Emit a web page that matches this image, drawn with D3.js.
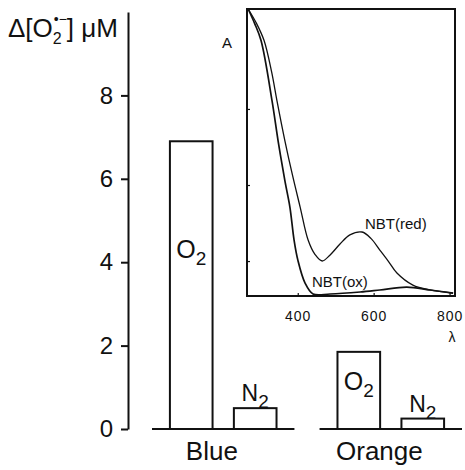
<!DOCTYPE html>
<html>
<head>
<meta charset="utf-8">
<script src="https://cdn.jsdelivr.net/npm/d3@7"></script>
<style>
  body { margin: 0; background: #fff; }
  text { font-family: "Liberation Sans", Arial, sans-serif; fill: #111; }
</style>
</head>
<body>
<div id="main"></div>
<script>
// bar chart data (delta superoxide, uM)
var categories = ["Blue", "Orange"];
var gases = ["O2", "N2"];
var blueValues = [6.9, 0.5];
var orangeValues = [1.85, 0.25];
var yTicks = [0, 2, 4, 6, 8];

// inset spectra (wavelength nm, absorbance in arbitrary units)
var redWave = [268, 290, 310, 330, 344, 365, 385, 405, 426, 444, 463, 484, 510, 536, 568, 592, 615, 638, 660, 702, 747, 808];
var redAbs  = [1.0, 0.95, 0.89, 0.78, 0.68, 0.54, 0.42, 0.31, 0.195, 0.145, 0.122, 0.143, 0.181, 0.213, 0.223, 0.2, 0.16, 0.12, 0.08, 0.038, 0.021, 0.01];
var oxWave = [268, 285, 302, 331, 347, 365, 378, 389, 399, 418, 439, 484, 563, 615, 686, 747, 808];
var oxAbs  = [1.0, 0.95, 0.89, 0.68, 0.54, 0.4, 0.31, 0.195, 0.125, 0.045, 0.007, 0.007, 0.014, 0.021, 0.031, 0.021, 0.01];
var insetXTicks = [400, 600, 800];
var insetYTicks = [0.12, 0.385, 0.65];

var W = 465, H = 470;

var svg = d3.select("#main")
  .append("svg")
    .attr("width", W)
    .attr("height", H);

var values = { "Blue": blueValues, "Orange": orangeValues };

// scales for the main chart
var y = d3.scaleLinear()
  .domain([0, 10])
  .range([429, 12]);

var x0 = d3.scaleBand()
  .domain(categories)
  .range([152, 462])
  .paddingInner(0.15)
  .paddingOuter(0);

var x1 = d3.scaleBand()
  .domain(gases)
  .range([0, x0.bandwidth()])
  .paddingInner(1 / 3)
  .paddingOuter(0.28);

// y axis
var yAxis = svg.append("g")
  .attr("transform", "translate(128,0)")
  .call(d3.axisLeft(y).tickValues(yTicks).tickSize(7).tickSizeOuter(0).tickPadding(8));

yAxis.select(".domain").attr("stroke-width", 2).attr("stroke", "#111");
yAxis.selectAll(".tick line").attr("stroke-width", 2).attr("stroke", "#111");
yAxis.selectAll(".tick text")
  .attr("font-size", 24)
  .attr("font-family", "Liberation Sans, Arial, sans-serif")
  .attr("fill", "#111");

// y axis title: delta [O2 superoxide] uM
var ylab = svg.append("text")
  .attr("x", 8)
  .attr("y", 37)
  .attr("font-size", 26);
ylab.append("tspan").text("Δ[O");
ylab.append("tspan").attr("font-size", 16).attr("dy", 7).text("2");
ylab.append("tspan").attr("font-size", 14).attr("dx", -8).attr("dy", -20).text("•−");
ylab.append("tspan").attr("dy", 13).text("] μM");

// groups
var groups = svg.selectAll(".grp")
  .data(categories)
  .enter().append("g")
    .attr("class", "grp")
    .attr("transform", function(d) { return "translate(" + x0(d) + ",0)"; });

// baseline under each group
groups.append("line")
  .attr("x1", 0)
  .attr("x2", x0.bandwidth())
  .attr("y1", y(0))
  .attr("y2", y(0))
  .attr("stroke", "#111")
  .attr("stroke-width", 2);

var bars = groups.selectAll(".bar")
  .data(function(c) { return gases.map(function(g, i) { return {gas: g, value: values[c][i]}; }); })
  .enter().append("g")
    .attr("class", "bar");

bars.append("rect")
  .attr("x", function(d) { return x1(d.gas); })
  .attr("y", function(d) { return y(d.value); })
  .attr("width", x1.bandwidth())
  .attr("height", function(d) { return y(0) - y(d.value); })
  .attr("fill", "#fff")
  .attr("stroke", "#111")
  .attr("stroke-width", 2);

// gas labels: O2 inside the bar, N2 above it
var lab = bars.append("text")
  .attr("text-anchor", "middle")
  .attr("x", function(d) { return x1(d.gas) + x1.bandwidth() / 2; })
  .attr("y", function(d) {
    if (d.gas == "O2") return Math.max(y(d.value) + 38, y(4.1));
    return y(d.value) - 7;
  })
  .attr("font-size", function(d) { return d.gas == "O2" ? 25 : 23; });
lab.append("tspan").text(function(d) { return d.gas.charAt(0); });
lab.append("tspan").attr("font-size", 19).attr("dy", 7).text("2");

// category labels
groups.append("text")
  .attr("x", x0.bandwidth() * 0.42)
  .attr("y", 460)
  .attr("text-anchor", "middle")
  .attr("font-size", 26)
  .text(function(d) { return d; });

// ---- inset spectrum ----
var ix = d3.scaleLinear().domain([265, 813]).range([247, 455]);
var iy = d3.scaleLinear().domain([0, 1]).range([296, 9]);

var inset = svg.append("g");

inset.append("rect")
  .attr("x", ix.range()[0])
  .attr("y", iy.range()[1])
  .attr("width", ix.range()[1] - ix.range()[0])
  .attr("height", iy.range()[0] - iy.range()[1])
  .attr("fill", "#fff")
  .attr("stroke", "#111")
  .attr("stroke-width", 2);

// small inward ticks
inset.selectAll(".yt")
  .data(insetYTicks)
  .enter().append("line")
    .attr("x1", ix.range()[0])
    .attr("x2", ix.range()[0] + 3)
    .attr("y1", function(d) { return iy(d); })
    .attr("y2", function(d) { return iy(d); })
    .attr("stroke", "#111")
    .attr("stroke-width", 1.2);

inset.selectAll(".xt")
  .data(insetXTicks)
  .enter().append("line")
    .attr("x1", function(d) { return ix(d); })
    .attr("x2", function(d) { return ix(d); })
    .attr("y1", iy(0))
    .attr("y2", iy(0) - 3)
    .attr("stroke", "#111")
    .attr("stroke-width", 1.2);

inset.selectAll(".xl")
  .data(insetXTicks)
  .enter().append("text")
    .attr("x", function(d) { return ix(d); })
    .attr("y", 321)
    .attr("text-anchor", "middle")
    .attr("font-size", 14)
    .attr("letter-spacing", 1)
    .text(function(d) { return d; });

inset.append("text").attr("x", 452).attr("y", 342).attr("text-anchor", "middle").attr("font-size", 14).text("λ");
inset.append("text").attr("x", 227).attr("y", 48).attr("text-anchor", "middle").attr("font-size", 15).text("A");

var line = d3.line()
  .x(function(d) { return ix(d[0]); })
  .y(function(d) { return iy(d[1]); })
  .curve(d3.curveCatmullRom.alpha(0.5));

inset.append("path")
  .attr("d", line(d3.zip(redWave, redAbs)))
  .attr("fill", "none")
  .attr("stroke", "#111")
  .attr("stroke-width", 1.3);

inset.append("path")
  .attr("d", line(d3.zip(oxWave, oxAbs)))
  .attr("fill", "none")
  .attr("stroke", "#111")
  .attr("stroke-width", 1.7);

inset.append("text").attr("x", 365).attr("y", 229).attr("font-size", 15).text("NBT(red)");
inset.append("text").attr("x", 312).attr("y", 287).attr("font-size", 15).text("NBT(ox)");
</script>
</body>
</html>
